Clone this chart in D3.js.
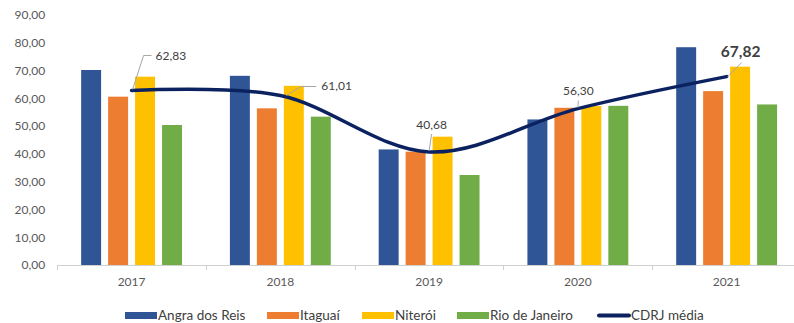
<!DOCTYPE html>
<html>
<head>
<meta charset="utf-8">
<script src="https://cdn.jsdelivr.net/npm/d3@7"></script>
<style>
  html, body { margin: 0; padding: 0; background: #fff; }
  svg { display: block; font-family: Lato, "Open Sans", sans-serif; }
</style>
</head>
<body>
<svg id="chart" width="794" height="323"></svg>
<script>
// Years on the category axis
const years = ["2017", "2018", "2019", "2020", "2021"];

// Series shown as bars
const seriesNames = ["Angra dos Reis", "Itaguaí", "Niterói", "Rio de Janeiro"];
const angraDosReis = [70.2, 68.1, 41.6, 52.4, 78.4];
const itaguai      = [60.6, 56.4, 40.8, 56.6, 62.6];
const niteroi      = [67.8, 64.5, 46.2, 57.2, 71.4];
const rioDeJaneiro = [50.4, 53.4, 32.4, 57.3, 57.8];

// Average line
const lineName = "CDRJ média";
const cdrjMedia = [62.83, 61.01, 40.68, 56.30, 67.82];

// Value axis ticks
const yTicks = [0, 10, 20, 30, 40, 50, 60, 70, 80, 90];

const barValues = [angraDosReis, itaguai, niteroi, rioDeJaneiro];
const colors = ["#2F5597", "#ED7D31", "#FFC000", "#70AD47"];
const lineColor = "#0B2160";
const fmt = v => d3.format(".2f")(v).replace(".", ",");

const svg = d3.select("#chart");
const plot = { left: 57.2, right: 801, top: 15, bottom: 265 };

const x0 = d3.scaleBand().domain(years).range([plot.left, plot.right]).padding(0);
const bw = x0.bandwidth();
const x1 = d3.scaleBand().domain(seriesNames)
  .range([bw * 0.161, bw * 0.839]).paddingInner(0.26).paddingOuter(0);
const y = d3.scaleLinear().domain([0, 90]).range([plot.bottom, plot.top]);

// Value axis (labels only)
const yAxis = svg.append("g").attr("transform", `translate(${plot.left - 12},0)`)
  .call(d3.axisLeft(y).tickValues(yTicks).tickFormat(fmt).tickSize(0).tickPadding(0));
yAxis.select(".domain").remove();
yAxis.selectAll("text").attr("fill", "#595959").style("font-size", "12px")
  .style("font-family", "Lato, sans-serif");

// Bars
const rows = years.map((yr, i) => ({ year: yr, vals: seriesNames.map((s, k) => ({ s, k, v: barValues[k][i] })) }));
const groups = svg.append("g").selectAll("g").data(rows).join("g")
  .attr("transform", d => `translate(${x0(d.year)},0)`);
groups.selectAll("rect").data(d => d.vals).join("rect")
  .attr("x", d => x1(d.s))
  .attr("width", x1.bandwidth())
  .attr("y", d => y(d.v))
  .attr("height", d => y(0) - y(d.v))
  .attr("fill", d => colors[d.k]);

// Category axis
const xAxis = svg.append("g").attr("transform", `translate(0,${plot.bottom})`)
  .call(d3.axisBottom(x0).tickSize(0).tickPadding(12));
xAxis.select(".domain").attr("stroke", "#d0d0d0").attr("stroke-width", 1);
xAxis.selectAll("text").attr("fill", "#595959").style("font-size", "12px")
  .style("font-family", "Lato, sans-serif");
// Tick marks between categories
svg.append("g").selectAll("line").data(years).join("line")
  .attr("x1", d => Math.round(x0(d)) + 0.5).attr("x2", d => Math.round(x0(d)) + 0.5)
  .attr("y1", plot.bottom).attr("y2", plot.bottom + 5)
  .attr("stroke", "#d0d0d0");

// Smoothed average line
const cx = yr => x0(yr) + bw / 2;
const pts = years.map((yr, i) => [cx(yr), y(cdrjMedia[i])]);
svg.append("path").datum(pts)
  .attr("d", d3.line().curve(d3.curveCardinal.tension(0)))
  .attr("fill", "none").attr("stroke", lineColor).attr("stroke-width", 3.5)
  .attr("stroke-linecap", "round");

// Data labels with leader lines: label offset, anchor and leader path offsets
const labelLayout = [
  { dx: 24, dy: -35, anchor: "start", leader: [[1, -1], [12, -35], [20, -35]] },
  { dx: 41, dy: -9.5, anchor: "start", leader: [[6, 0], [21, -9], [36, -9]] },
  { dx: 2.5, dy: -27, anchor: "middle", leader: [[0, -1], [2.5, -18]] },
  { dx: 0.5, dy: -18, anchor: "middle", leader: [[0, -1], [0.5, -8]] },
  { dx: 14, dy: -25, anchor: "middle", leader: [[1, 0], [15, -14]] }
];
const labels = svg.append("g");
pts.forEach((p, i) => {
  const L = labelLayout[i];
  labels.append("path")
    .attr("d", d3.line()(L.leader.map(o => [p[0] + o[0], p[1] + o[1]])))
    .attr("fill", "none").attr("stroke", "#a6a6a6").attr("stroke-width", 1);
  const last = i === pts.length - 1;
  labels.append("text")
    .attr("x", p[0] + L.dx).attr("y", p[1] + L.dy)
    .attr("dy", "0.35em")
    .attr("text-anchor", L.anchor)
    .attr("fill", "#404040")
    .style("font-size", last ? "15.5px" : "12px")
    .style("font-weight", last ? "bold" : "normal")
    .text(fmt(cdrjMedia[i]));
});

// Legend
const legendItems = seriesNames.map((s, k) => ({ name: s, color: colors[k], type: "rect" }))
  .concat([{ name: lineName, color: lineColor, type: "line" }]);
const legendX = [125, 267, 362, 457, 598];
const lg = svg.append("g").attr("transform", "translate(0,315.5)");
legendItems.forEach((it, i) => {
  const g = lg.append("g").attr("transform", `translate(${legendX[i]},0)`);
  if (it.type === "rect") {
    g.append("rect").attr("x", 0).attr("y", -3.5).attr("width", 32).attr("height", 7).attr("fill", it.color);
  } else {
    g.append("line").attr("x1", 1).attr("x2", 31).attr("y1", 0).attr("y2", 0)
      .attr("stroke", it.color).attr("stroke-width", 4).attr("stroke-linecap", "round");
  }
  g.append("text").attr("x", 33).attr("y", 0).attr("dy", "0.35em")
    .attr("fill", "#404040").style("font-size", "13.5px").text(it.name);
});
</script>
</body>
</html>
